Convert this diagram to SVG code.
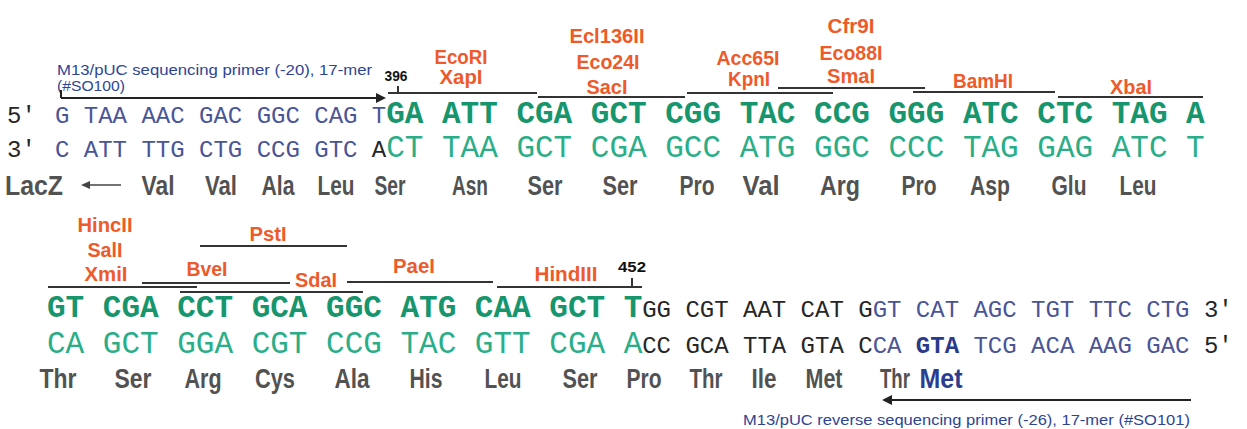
<svg xmlns="http://www.w3.org/2000/svg" width="1247" height="429" viewBox="0 0 1247 429">
  <style>
    .seq { font-family: "Liberation Mono", "DejaVu Sans Mono", monospace; }
    .s24 { font-size: 24px; }
    .s31 { font-size: 31px; }
    .blue { fill: #4a5598; }
    .bb { fill: #2a3a88; font-weight: bold; }
    .gb { fill: #17966e; font-weight: bold; }
    .gn { fill: #2aae88; }
    .dark { fill: #262626; }
    .aa { font-family: "Liberation Sans", Arial, sans-serif; font-weight: bold; font-size: 27px; fill: #525252; text-anchor: middle; }
    .aab { fill: #2a3d8f; }
    .re { font-family: "Liberation Sans", Arial, sans-serif; font-weight: bold; font-size: 20px; fill: #ee5a2a; text-anchor: middle; }
    .pr { font-family: "Liberation Sans", Arial, sans-serif; font-size: 15px; fill: #2d4494; }
    .num { font-family: "Liberation Sans", Arial, sans-serif; font-weight: bold; font-size: 15px; fill: #111111; text-anchor: middle; }
    .site { stroke: #333333; stroke-width: 2; fill: none; }
    .arr { stroke: #222222; stroke-width: 2; fill: none; }
  </style>

  <!-- forward primer label -->
  <g id="primer-forward">
    <text class="pr" x="57" y="75" textLength="315" lengthAdjust="spacingAndGlyphs">M13/pUC sequencing primer (-20), 17-mer</text>
    <text class="pr" x="57" y="91" textLength="68" lengthAdjust="spacingAndGlyphs">(#SO100)</text>
  </g>

  <!-- position markers -->
  <g id="pos-396"><text class="num" x="396" y="81" textLength="23" lengthAdjust="spacingAndGlyphs">396</text></g>
  <g id="pos-452"><text class="num" x="632" y="272" textLength="28" lengthAdjust="spacingAndGlyphs">452</text></g>

  <!-- restriction enzyme labels, upper block -->
  <g id="site-ecori">
    <text class="re" x="461" y="64" textLength="53" lengthAdjust="spacingAndGlyphs">EcoRI</text>
    <text class="re" x="461" y="84" textLength="43" lengthAdjust="spacingAndGlyphs">XapI</text>
  </g>
  <g id="site-saci">
    <text class="re" x="607" y="43" textLength="75" lengthAdjust="spacingAndGlyphs">Ecl136II</text>
    <text class="re" x="608" y="69" textLength="63" lengthAdjust="spacingAndGlyphs">Eco24I</text>
    <text class="re" x="607" y="94" textLength="41" lengthAdjust="spacingAndGlyphs">SacI</text>
  </g>
  <g id="site-kpni">
    <text class="re" x="748" y="65" textLength="63" lengthAdjust="spacingAndGlyphs">Acc65I</text>
    <text class="re" x="749" y="86" textLength="42" lengthAdjust="spacingAndGlyphs">KpnI</text>
  </g>
  <g id="site-smai">
    <text class="re" x="851" y="33" textLength="47" lengthAdjust="spacingAndGlyphs">Cfr9I</text>
    <text class="re" x="851" y="60" textLength="63" lengthAdjust="spacingAndGlyphs">Eco88I</text>
    <text class="re" x="851" y="83" textLength="48" lengthAdjust="spacingAndGlyphs">SmaI</text>
  </g>
  <g id="site-bamhi">
    <text class="re" x="983" y="88" textLength="60" lengthAdjust="spacingAndGlyphs">BamHI</text>
  </g>
  <g id="site-xbai">
    <text class="re" x="1131" y="94" textLength="42" lengthAdjust="spacingAndGlyphs">XbaI</text>
  </g>

  <!-- restriction enzyme labels, lower block -->
  <g id="site-sali">
    <text class="re" x="105" y="232" textLength="55" lengthAdjust="spacingAndGlyphs">HincII</text>
    <text class="re" x="105" y="257" textLength="35" lengthAdjust="spacingAndGlyphs">SalI</text>
    <text class="re" x="106" y="281" textLength="43" lengthAdjust="spacingAndGlyphs">XmiI</text>
  </g>
  <g id="site-psti"><text class="re" x="268" y="241" textLength="37" lengthAdjust="spacingAndGlyphs">PstI</text></g>
  <g id="site-bvei"><text class="re" x="207" y="276" textLength="41" lengthAdjust="spacingAndGlyphs">BveI</text></g>
  <g id="site-sdai"><text class="re" x="316" y="287" textLength="42" lengthAdjust="spacingAndGlyphs">SdaI</text></g>
  <g id="site-paei"><text class="re" x="414" y="273" textLength="42" lengthAdjust="spacingAndGlyphs">PaeI</text></g>
  <g id="site-hindiii"><text class="re" x="566" y="281" textLength="63" lengthAdjust="spacingAndGlyphs">HindIII</text></g>

  <!-- upper block: top strand -->
  <g id="strand-upper-top">
    <text class="seq s24 dark" x="7" y="123">5′</text>
    <text class="seq s24 blue" x="55" y="123">G TAA AAC GAC GGC CAG T</text>
    <text class="seq s31 gb" x="386.2" y="123">GA ATT CGA GCT CGG TAC CCG GGG ATC CTC TAG A</text>
  </g>

  <!-- upper block: bottom strand -->
  <g id="strand-upper-bottom">
    <text class="seq s24 dark" x="7" y="157">3′</text>
    <text class="seq s24 blue" x="55" y="157">C ATT TTG CTG CCG GTC <tspan class="dark">A</tspan></text>
    <text class="seq s31 gn" x="386.2" y="157">CT TAA GCT CGA GCC ATG GGC CCC TAG GAG ATC T</text>
  </g>

  <!-- upper block: translation -->
  <g id="protein-upper">
    <text class="aa" x="34" y="195" textLength="58" lengthAdjust="spacingAndGlyphs">LacZ</text>
    <text class="aa" x="158" y="195" textLength="33" lengthAdjust="spacingAndGlyphs">Val</text>
    <text class="aa" x="221" y="195" textLength="32" lengthAdjust="spacingAndGlyphs">Val</text>
    <text class="aa" x="278" y="195" textLength="33" lengthAdjust="spacingAndGlyphs">Ala</text>
    <text class="aa" x="336" y="195" textLength="37" lengthAdjust="spacingAndGlyphs">Leu</text>
    <text class="aa" x="390" y="195" textLength="31" lengthAdjust="spacingAndGlyphs">Ser</text>
    <text class="aa" x="470" y="195" textLength="36" lengthAdjust="spacingAndGlyphs">Asn</text>
    <text class="aa" x="545" y="195" textLength="35" lengthAdjust="spacingAndGlyphs">Ser</text>
    <text class="aa" x="620" y="195" textLength="35" lengthAdjust="spacingAndGlyphs">Ser</text>
    <text class="aa" x="697" y="195" textLength="35" lengthAdjust="spacingAndGlyphs">Pro</text>
    <text class="aa" x="761" y="195" textLength="37" lengthAdjust="spacingAndGlyphs">Val</text>
    <text class="aa" x="840" y="195" textLength="40" lengthAdjust="spacingAndGlyphs">Arg</text>
    <text class="aa" x="919" y="195" textLength="35" lengthAdjust="spacingAndGlyphs">Pro</text>
    <text class="aa" x="990" y="195" textLength="40" lengthAdjust="spacingAndGlyphs">Asp</text>
    <text class="aa" x="1069" y="195" textLength="35" lengthAdjust="spacingAndGlyphs">Glu</text>
    <text class="aa" x="1138" y="195" textLength="37" lengthAdjust="spacingAndGlyphs">Leu</text>
  </g>

  <!-- lower block: top strand -->
  <g id="strand-lower-top">
    <text class="seq s31 gb" x="47" y="317">GT CGA CCT GCA GGC ATG CAA GCT T</text>
    <text class="seq s24 dark" x="642.2" y="317">GG CGT AAT CAT G<tspan class="blue">GT CAT AGC TGT TTC CTG</tspan> 3′</text>
  </g>

  <!-- lower block: bottom strand -->
  <g id="strand-lower-bottom">
    <text class="seq s31 gn" x="47" y="353">CA GCT GGA CGT CCG TAC GTT CGA A</text>
    <text class="seq s24 dark" x="642.2" y="353">CC GCA TTA GTA C<tspan class="blue">CA <tspan class="bb">GTA</tspan> TCG ACA AAG GAC</tspan> 5′</text>
  </g>

  <!-- lower block: translation -->
  <g id="protein-lower">
    <text class="aa" x="58" y="388" textLength="37" lengthAdjust="spacingAndGlyphs">Thr</text>
    <text class="aa" x="133" y="388" textLength="37" lengthAdjust="spacingAndGlyphs">Ser</text>
    <text class="aa" x="203" y="388" textLength="37" lengthAdjust="spacingAndGlyphs">Arg</text>
    <text class="aa" x="275" y="388" textLength="40" lengthAdjust="spacingAndGlyphs">Cys</text>
    <text class="aa" x="352" y="388" textLength="35" lengthAdjust="spacingAndGlyphs">Ala</text>
    <text class="aa" x="426" y="388" textLength="33" lengthAdjust="spacingAndGlyphs">His</text>
    <text class="aa" x="503" y="388" textLength="37" lengthAdjust="spacingAndGlyphs">Leu</text>
    <text class="aa" x="580" y="388" textLength="35" lengthAdjust="spacingAndGlyphs">Ser</text>
    <text class="aa" x="644" y="388" textLength="35" lengthAdjust="spacingAndGlyphs">Pro</text>
    <text class="aa" x="706" y="388" textLength="33" lengthAdjust="spacingAndGlyphs">Thr</text>
    <text class="aa" x="764" y="388" textLength="25" lengthAdjust="spacingAndGlyphs">Ile</text>
    <text class="aa" x="824" y="388" textLength="37" lengthAdjust="spacingAndGlyphs">Met</text>
    <text class="aa" x="895" y="388" textLength="30" lengthAdjust="spacingAndGlyphs">Thr</text>
    <text class="aa aab" x="941" y="388" textLength="43" lengthAdjust="spacingAndGlyphs">Met</text>
  </g>

  <!-- reverse primer label -->
  <g id="primer-reverse">
    <text class="pr" x="743" y="425" textLength="447" lengthAdjust="spacingAndGlyphs">M13/pUC reverse sequencing primer (-26), 17-mer (#SO101)</text>
  </g>

  <!-- connectors: site bars, position ticks, primer arrows -->
  <g id="connectors">
    <!-- upper block site bars -->
    <line class="site" x1="388" y1="93" x2="537" y2="93"/>
    <line class="site" x1="538" y1="97" x2="685" y2="97"/>
    <line class="site" x1="687" y1="93" x2="833" y2="93"/>
    <line class="site" x1="778" y1="88" x2="925" y2="88"/>
    <line class="site" x1="913" y1="92" x2="1055" y2="92"/>
    <line class="site" x1="1058" y1="97" x2="1203" y2="97"/>
    <line class="site" x1="398" y1="86" x2="398" y2="93"/>

    <!-- lower block site bars -->
    <line class="site" x1="48" y1="287" x2="197" y2="287"/>
    <line class="site" x1="142" y1="283" x2="290" y2="283"/>
    <line class="site" x1="200" y1="246" x2="347" y2="246"/>
    <line class="site" x1="180" y1="292" x2="363" y2="292"/>
    <line class="site" x1="347" y1="282" x2="493" y2="282"/>
    <line class="site" x1="497" y1="287" x2="642" y2="287"/>
    <line class="site" x1="632" y1="278" x2="632" y2="287"/>

    <!-- forward primer arrow -->
    <line class="arr" x1="61" y1="90" x2="61" y2="98"/>
    <line class="arr" x1="61" y1="98" x2="379" y2="98"/>
    <polygon points="386,98 376,93 376,103" fill="#222222"/>

    <!-- LacZ direction arrow -->
    <line x1="88" y1="185" x2="121" y2="185" stroke="#444444" stroke-width="1.6"/>
    <polygon points="81,185 90,181 90,189" fill="#444444"/>

    <!-- reverse primer arrow -->
    <line class="arr" x1="1191" y1="400" x2="889" y2="400"/>
    <polygon points="882,400 892,395 892,405" fill="#222222"/>
  </g>
</svg>
